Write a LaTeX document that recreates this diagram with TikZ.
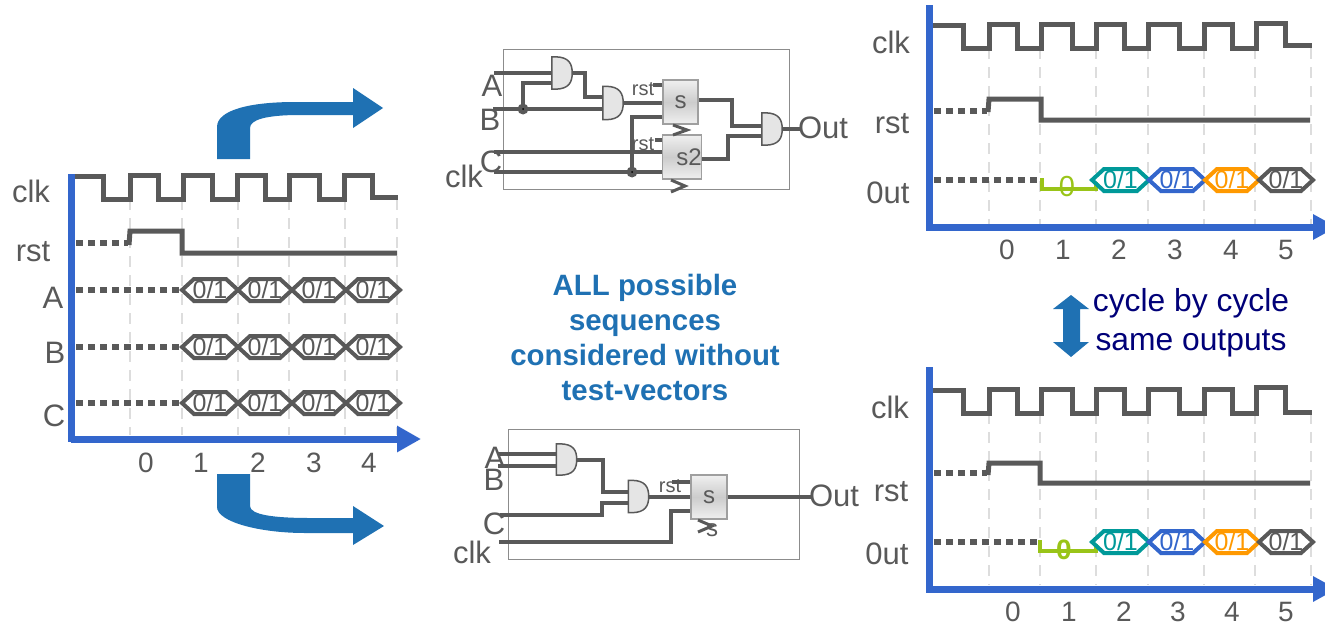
\documentclass[tikz,border=0pt]{standalone}
\usepackage{fontspec}
\setmainfont{Liberation Sans}
\definecolor{wavegray}{RGB}{89,89,89}
\definecolor{gridgray}{RGB}{221,221,221}
\definecolor{axisblue}{RGB}{51,102,204}
\definecolor{flowblue}{RGB}{31,113,179}
\definecolor{noteblue}{RGB}{0,0,120}
\definecolor{zerogreen}{RGB}{153,196,24}
\definecolor{hexteal}{RGB}{0,153,153}
\definecolor{hexorange}{RGB}{255,153,0}
\usetikzlibrary{arrows.meta,positioning}
\newcommand{\hexcell}[5]{
  \draw[hexwave,#4] (#1,#3) -- (#1+12,#3-11) -- (#2-12,#3-11) -- (#2,#3)
    -- (#2-12,#3+11) -- (#1+12,#3+11) -- cycle;
  \node[hextext,text=#4] (#5) at ({(#1+#2)/2},#3) {0/1};
}
\newcommand{\chevron}[3]{
  \draw[wire,line width=3pt] (#1,#2) -- (#1+14,#2+#3) -- (#1,#2+2*#3);
}
\newcommand{\gatebody}[1]{
  \draw[gateline] (#1.south west) -- (#1.north west) -- ([xshift=3pt]#1.north west)
    .. controls ([xshift=-3pt]#1.north east) and ([yshift=9pt]#1.east) .. (#1.east)
    .. controls ([yshift=-9pt]#1.east) and ([xshift=-3pt]#1.south east) .. ([xshift=3pt]#1.south west) -- cycle;
}

\begin{document}
\begin{tikzpicture}[
  x=1pt,y=-1pt,
  wave/.style={line width=5pt,wavegray,line join=miter},
  dots/.style={line width=5.5pt,wavegray,dash pattern=on 6.5pt off 5.5pt},
  gridline/.style={line width=1.5pt,gridgray,dash pattern=on 11pt off 8pt},
  hexwave/.style={line width=4pt,line join=miter},
  hextext/.style={font=\fontsize{25}{25}\selectfont,inner sep=0pt},
  lab/.style={font=\fontsize{31}{31}\selectfont,text=wavegray,inner sep=0pt},
  ticklab/.style={font=\fontsize{28}{28}\selectfont,text=wavegray,inner sep=0pt},
  axis/.style={line width=7pt,axisblue},
  wire/.style={line width=4pt,wavegray},
  gate/.style={inner sep=0pt,minimum width=20pt},
  gateline/.style={draw=wavegray,line width=1.5pt,fill=gray!20},
  ffbox/.style={draw=gray!75,line width=1.2pt,inner sep=0pt,top color=gray!12,bottom color=gray!12,middle color=gray!40,
    font=\fontsize{24}{24}\selectfont,text=wavegray},
  circuit/.style={draw=gray!90,line width=1pt},
  small/.style={font=\fontsize{20}{20}\selectfont,text=wavegray,inner sep=0pt},
  bigarrow/.style={fill=flowblue,draw=none}
]
  \useasboundingbox (0,0) rectangle (1325,624);
  \clip (0,0) rectangle (1325,624);

  % Left waveforms
  \foreach \x in {130,182,238,289,345,397} {
    \draw[gridline] (\x,199) -- (\x,435);
  }
  \draw[wave] (75,176) -- (103,176) -- (103,199) -- (130,199) -- (130,175) -- (158,175) -- (158,199)
    -- (183,199) -- (183,175) -- (212,175) -- (212,199) -- (237,199) -- (237,175) -- (265,175) -- (265,199)
    -- (289,199) -- (289,175) -- (319,175) -- (319,199) -- (344,199) -- (344,175) -- (372,175) -- (372,197) -- (398,197);
  \draw[dots] (76,243) -- (128,243);
  \draw[wave] (129,245) -- (130,231) -- (182,231) -- (182,253) -- (397,253);
  \foreach \rowy/\row in {290/A,347/B,403/C} {
    \draw[dots] (76,\rowy) -- (180,\rowy);
    \foreach \xa/\xb/\i in {182/238/1,238/292/2,292/346/3,346/400/4} {
      \hexcell{\xa}{\xb}{\rowy}{wavegray}{h\row\i}
    }
  }
  \coordinate (lo) at (71,439);
  \coordinate (ltop) at (71,174);
  \coordinate (lend) at (421,439);
  \draw[axis] (ltop) -- (71,442);
  \draw[axis,-{Triangle[length=24pt,width=25pt]}] (lo) -- (lend);
  \node[lab] (lclk) at (31,191) {clk};
  \node[lab] (lrst) at (33,252) {rst};
  \node[lab] (lA) at (53,298) {A};
  \node[lab] (lB) at (55,353) {B};
  \node[lab] (lC) at (54,416) {C};
  \foreach \x/\i in {146/0,201/1,258/2,314/3,369/4} {
    \node[ticklab] (lt\i) at (\x,463) {\i};
  }

  % Flow arrows
  \path[bigarrow] (217,159) -- (217,127) .. controls (217,110) and (250,102) .. (295,102) -- (353,102)
    -- (353,88) -- (383,108) -- (353,128) -- (353,115) -- (300,115)
    .. controls (265,115) and (250,120) .. (250,128) -- (250,159) -- cycle;
  \path[bigarrow] (217,474) -- (217,507) .. controls (217,522) and (260,533) .. (305,533) -- (353,533)
    -- (353,545) -- (384,526) -- (353,506) -- (353,518) -- (310,518)
    .. controls (275,518) and (250,515) .. (250,506) -- (250,474) -- cycle;
  \path[bigarrow] (1071,295) -- (1089,309) -- (1080,309) -- (1080,342) -- (1089,342) -- (1071,357)
    -- (1053,342) -- (1063,342) -- (1063,309) -- (1053,309) -- cycle;

  % Top circuit
  \node[circuit,minimum width=286pt,minimum height=140pt,inner sep=0pt] (cktA) at (646,119) {};
  \node[gate,minimum height=32pt] (and1) at (562,73) {};
  \node[gate,minimum height=33pt] (and2) at (613,103) {};
  \node[gate,minimum height=32pt] (and3) at (772,129) {};
  \node[ffbox,minimum width=35pt,minimum height=44pt] (ff1) at (680.5,102) {s};
  \node[ffbox,minimum width=35pt,minimum height=44pt] (ff2) at (682,157) {\hspace*{14pt}s2};
  \coordinate (inA) at (494,73);
  \coordinate (inB) at (493,109);
  \coordinate (inC) at (494,152);
  \coordinate (inK) at (494,172);
  \coordinate (jB) at (523,109);
  \coordinate (jK) at (632,172);
  \draw[wire] (inA) -- (inA -| and1.west);
  \draw[wire] (inB) -- (inB -| and2.west);
  \draw[wire] (jB) |- (553,83);
  \draw[wire] (and1.east) -| (585,97) -- (603,97);
  \draw[wire] (and2.east) -- (and2.east -| ff1.west);
  \draw[wire] (inC) -- (inC -| ff2.west);
  \draw[wire] (inK) -- (inK -| ff2.west);
  \draw[wire] (jK) |- (ff1.west |- 0,117);
  \draw[wire] (ff1.west |- 0,85) -- (653,85);
  \draw[wire] (ff2.west |- 0,140) -- (655,140);
  \draw[wire] (699,100) -| (732,126) -- (and3.west |- 0,126);
  \draw[wire] (702,159) -| (728,136) -- (and3.west |- 0,136);
  \draw[wire] (and3.east) -- (800,129);
  \gatebody{and1}
  \gatebody{and2}
  \gatebody{and3}
  \fill[wavegray] (jB) circle (5.5pt) (jK) circle (5.5pt);
  \fill[black] (jB) circle (1pt) (jK) circle (1pt);
  \chevron{673}{125}{5}
  \chevron{671}{180}{6}
  \node[small] (rstA) at (643,89) {rst};
  \node[small] (rstB) at (643,144) {rst};
  \node[lab] (cA) at (492,86) {A};
  \node[lab] (cB) at (490,120) {B};
  \node[lab] (cC) at (491,162) {C};
  \node[lab] (cclk) at (464,176) {clk};
  \node[lab] (cout) at (823,128) {Out};

  % Middle note
  \node[font=\bfseries\fontsize{29.4}{35}\selectfont,text=flowblue,align=center,inner sep=0pt] (note) at (645,337.5)
    {ALL possible\\sequences\\considered without\\test-vectors};

  % Bottom circuit
  \node[circuit,minimum width=291pt,minimum height=130pt,inner sep=0pt] (cktB) at (653.5,494) {};
  \node[gate,minimum height=31pt] (and4) at (566.5,459.5) {};
  \node[gate,minimum height=32pt] (and5) at (638.5,496.5) {};
  \node[ffbox,minimum width=36pt,minimum height=44pt] (ff3) at (709,497) {s};
  \coordinate (inD) at (498,454);
  \coordinate (inE) at (498,466);
  \coordinate (inF) at (500,515);
  \coordinate (inL) at (499,542);
  \draw[wire] (inD) -- (inD -| and4.west);
  \draw[wire] (inE) -- (inE -| and4.west);
  \draw[wire] (and4.east) -| (603,492) -- (and5.west |- 0,492);
  \draw[wire] (inF) -| (602,503) -- (and5.west |- 0,503);
  \draw[wire] (and5.east) -- (and5.east -| ff3.west);
  \draw[wire] (inL) -| (671,511) -- (ff3.west |- 0,511);
  \draw[wire] (ff3.west |- 0,482) -- (672,482);
  \draw[wire] (ff3.east) -- (811,497);
  \gatebody{and4}
  \gatebody{and5}
  \chevron{698}{520}{6}
  \node[font=\fontsize{24}{24}\selectfont,text=wavegray,inner sep=0pt] (sB) at (712,530) {s};
  \node[small] (rstC) at (670,486) {rst};
  \node[lab] (dA) at (495,458) {A};
  \node[lab] (dB) at (494,480) {B};
  \node[lab] (dC) at (494,524) {C};
  \node[lab] (dclk) at (472,552) {clk};
  \node[lab] (dout) at (834,496) {Out};

  % Right top waveforms
  \foreach \x in {989,1040,1096,1148,1204,1255,1311} {
    \draw[gridline] (\x,48) -- (\x,224);
  }
  \draw[wave] (933,25) -- (963,25) -- (963,48) -- (989,48) -- (989,24) -- (1017,24) -- (1017,48) -- (1041,48)
    -- (1041,24) -- (1072,24) -- (1072,48) -- (1096,48) -- (1096,24) -- (1124,24) -- (1124,48) -- (1148,48)
    -- (1148,24) -- (1179,24) -- (1179,48) -- (1204,48) -- (1204,24) -- (1232,24) -- (1232,48) -- (1256,48)
    -- (1256,23) -- (1285,23) -- (1285,45) -- (1312,45);
  \draw[dots] (934,111) -- (987,111);
  \draw[wave] (988,112) -- (989,99) -- (1041,99) -- (1041,120) -- (1310,120);
  \draw[dots] (934,180) -- (1037,180);
  \draw[wave,zerogreen,line width=4.5pt] (1042,178) -- (1042,189) -- (1096,189) -- (1096,182);
  \node[font=\fontsize{29}{29}\selectfont,text=zerogreen,inner sep=0pt] (zeroA) at (1067,187) {0};
  \hexcell{1092}{1149}{180}{hexteal}{hA1}
  \hexcell{1149}{1205}{180}{axisblue}{hA2}
  \hexcell{1205}{1259}{180}{hexorange}{hA3}
  \hexcell{1259}{1313}{180}{wavegray}{hA4}
  \coordinate (ao) at (926,227);
  \coordinate (aend) at (1337,227);
  \draw[axis] (929,5) -- (929,231);
  \draw[axis,-{Triangle[length=24pt,width=24pt]}] (ao) -- (aend);
  \node[lab] (aclk) at (891,42) {clk};
  \node[lab] (arst) at (892,124) {rst};
  \node[lab] (aout) at (888,193) {0ut};
  \foreach \x/\i in {1007/0,1063/1,1119/2,1175/3,1231/4,1286/5} {
    \node[ticklab] (at\i) at (\x,250) {\i};
  }

  % Note between the panels
  \node[font=\fontsize{31.8}{39}\selectfont,text=noteblue,align=center,inner sep=0pt] (same) at (1191,323)
    {cycle by cycle\\same outputs};

  % Right bottom waveforms
  \foreach \x in {989,1040,1096,1148,1204,1255,1311} {
    \draw[gridline] (\x,413) -- (\x,585);
  }
  \draw[wave] (933,390) -- (963,390) -- (963,413) -- (989,413) -- (989,389) -- (1017,389) -- (1017,413) -- (1041,413)
    -- (1041,389) -- (1072,389) -- (1072,413) -- (1096,413) -- (1096,389) -- (1124,389) -- (1124,413) -- (1148,413)
    -- (1148,389) -- (1179,389) -- (1179,413) -- (1204,413) -- (1204,389) -- (1232,389) -- (1232,413) -- (1256,413)
    -- (1256,387) -- (1285,387) -- (1285,412) -- (1312,412);
  \draw[dots] (934,473) -- (987,473);
  \draw[wave] (988,475) -- (989,463) -- (1040,463) -- (1040,483) -- (1310,483);
  \draw[dots] (934,542) -- (1037,542);
  \draw[wave,zerogreen,line width=4.5pt] (1040,540) -- (1040,551) -- (1096,551) -- (1096,544);
  \node[font=\bfseries\fontsize{28}{28}\selectfont,text=zerogreen,inner sep=0pt] (zeroB) at (1064,550) {0};
  \hexcell{1092}{1149}{542}{hexteal}{hB1}
  \hexcell{1149}{1205}{542}{axisblue}{hB2}
  \hexcell{1205}{1259}{542}{hexorange}{hB3}
  \hexcell{1259}{1313}{542}{wavegray}{hB4}
  \coordinate (bo) at (926,589);
  \coordinate (bend) at (1337,589);
  \draw[axis] (929,367) -- (929,593);
  \draw[axis,-{Triangle[length=24pt,width=24pt]}] (bo) -- (bend);
  \node[lab] (bclk) at (890,407) {clk};
  \node[lab] (brst) at (891,492) {rst};
  \node[lab] (bout) at (887,554) {0ut};
  \foreach \x/\i in {1013/0,1069/1,1124/2,1178/3,1232/4,1286/5} {
    \node[ticklab] (bt\i) at (\x,611.5) {\i};
  }
\end{tikzpicture}
\end{document}
